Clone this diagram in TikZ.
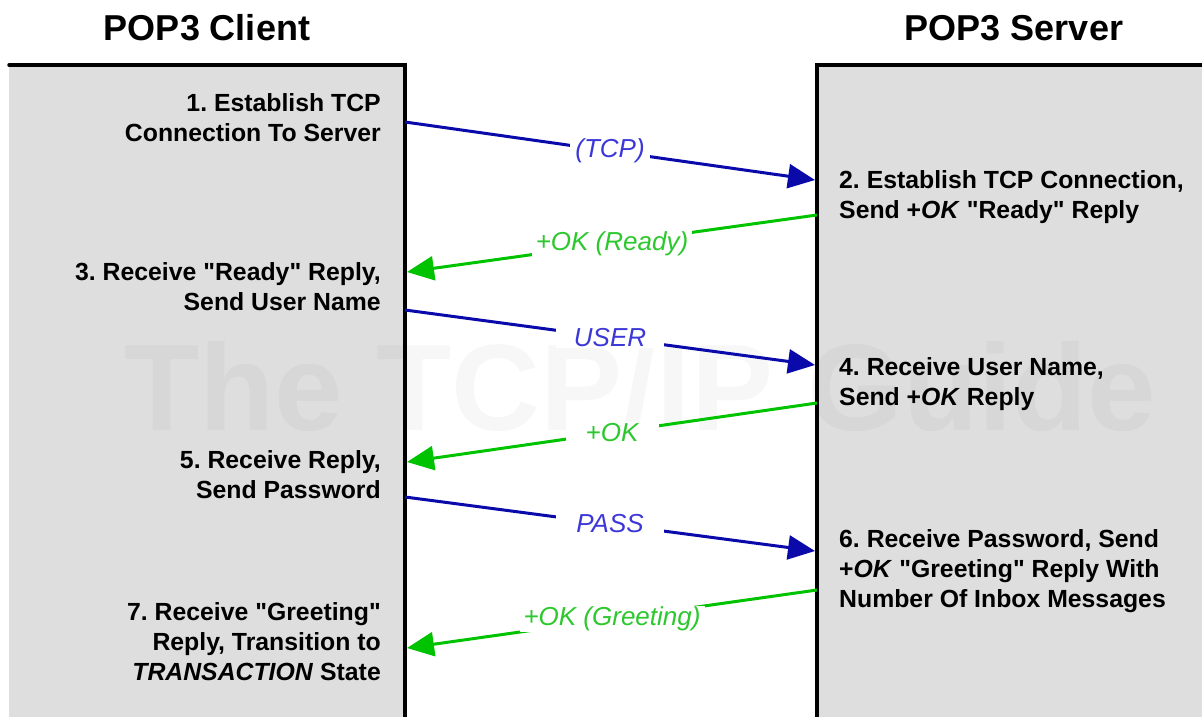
\documentclass[tikz,border=0pt]{standalone}
\usepackage{fontspec}
\setmainfont{Liberation Sans}
\usetikzlibrary{arrows.meta}
\definecolor{panelgray}{HTML}{DEDEDE}
\definecolor{lineblue}{RGB}{10,10,170}
\definecolor{labelblue}{RGB}{60,55,215}
\definecolor{linegreen}{RGB}{0,195,0}
\definecolor{labelgreen}{RGB}{45,200,45}
\newcommand{\qq}{\textquotedbl}
\tikzset{
  panel/.style={fill=panelgray, draw=none},
  border/.style={line width=3.5pt, black, line cap=round},
  title/.style={font=\fontsize{36}{40}\selectfont\bfseries, inner sep=0pt},
  cstep/.style={anchor=east, align=right, inner sep=0pt, font=\fontsize{24.8}{30}\selectfont\bfseries\frenchspacing},
  sstep/.style={anchor=west, align=left, inner sep=0pt, font=\fontsize{24.8}{30}\selectfont\bfseries\frenchspacing},
  msgblue/.style={draw=lineblue, line width=3pt, -{Triangle[length=27pt,width=24pt]}},
  msggreen/.style={draw=linegreen, line width=3pt, -{Triangle[length=27pt,width=24pt]}},
  lbl/.style={midway, fill=white, inner xsep=4pt, inner ysep=1pt, font=\fontsize{26}{30}\selectfont\itshape},
  lblblue/.style={lbl, text=labelblue},
  lblgreen/.style={lbl, text=labelgreen},
  wmark/.style={text=black, text opacity=0.03, font=\fontsize{123}{130}\selectfont\bfseries, inner sep=0pt, anchor=base}
}
\begin{document}
\begin{tikzpicture}[x=1pt,y=-1pt]
\useasboundingbox (0,0) rectangle (1202,717);
\fill[white] (0,0) rectangle (1202,717);
% panels
\fill[panelgray] (9,65) rectangle (405,717);
\fill[panelgray] (817,65) rectangle (1202,717);
% watermark
\node[wmark] (wm) at (640,430) {The TCP/IP Guide};
% borders
\draw[border] (9,65) -- (405,65) -- (405,717);
\draw[border] (817,717) -- (817,65) -- (1202,65);
% titles
\node[title] (tc) at (207,28) {POP3 Client};
\node[title] (ts) at (1014,28) {POP3 Server};
% step texts
\node[cstep] (st1) at (381,118) {1. Establish TCP\\Connection To Server};
\node[sstep] (st2) at (839,197.5) {2. Establish TCP Connection,\\Send +\textit{OK} \qq Ready\qq{} Reply};
\node[cstep] (st3) at (381,287) {3. Receive \qq Ready\qq{} Reply,\\Send User Name};
\node[sstep] (st4) at (839,384) {4. Receive User Name,\\Send +\textit{OK} Reply};
\node[cstep] (st5) at (381,475) {5. Receive Reply,\\Send Password};
\node[sstep] (st6) at (839,571) {6. Receive Password, Send\\+\textit{OK} \qq Greeting\qq{} Reply With\\Number Of Inbox Messages};
\node[cstep] (st7) at (381,642) {7. Receive \qq Greeting\qq\\Reply, Transition to\\\textit{TRANSACTION} State};
% message endpoints
\coordinate (c1) at (405,122);  \coordinate (s1) at (815,180);
\coordinate (s2) at (817,215);  \coordinate (c2) at (407,272);
\coordinate (c3) at (405,310);  \coordinate (s3) at (815,365);
\coordinate (s4) at (817,403);  \coordinate (c4) at (407,462);
\coordinate (c5) at (405,497);  \coordinate (s5) at (815,551);
\coordinate (s6) at (817,590);  \coordinate (c6) at (407,648);
% messages
\draw[msgblue] (c1) -- node[lblblue, minimum width=80pt] (l1) {(TCP)} (s1);
\draw[msggreen] (s2) -- node[lblgreen] (l2) {+OK (Ready)} (c2);
\draw[msgblue] (c3) -- node[lblblue, minimum width=108pt] (l3) {USER} (s3);
\draw[msggreen] (s4) -- node[lblgreen, minimum width=93pt] (l4) {+OK} (c4);
\draw[msgblue] (c5) -- node[lblblue, minimum width=108pt] (l5) {PASS} (s5);
\draw[msggreen] (s6) -- node[lblgreen] (l6) {+OK (Greeting)} (c6);
\end{tikzpicture}
\end{document}
